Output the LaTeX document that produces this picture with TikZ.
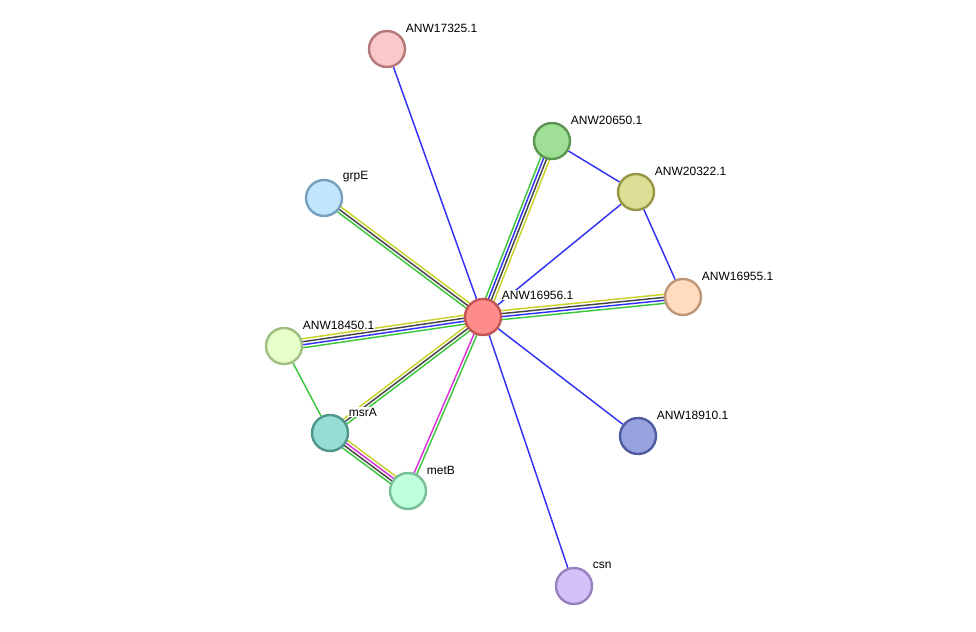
\documentclass[tikz,border=0pt]{standalone}
\usepackage{fontspec}
\setmainfont{Liberation Sans}
\usetikzlibrary{calc,backgrounds}

\definecolor{evgreen}{RGB}{60,200,60}
\definecolor{evblue}{RGB}{50,50,245}
\definecolor{evyellow}{RGB}{200,210,40}
\definecolor{evdark}{RGB}{70,70,70}
\definecolor{evpink}{RGB}{220,50,220}

% node fill / border colours
\definecolor{fA}{RGB}{255,140,140}\definecolor{bA}{RGB}{195,85,85}
\definecolor{fB}{RGB}{250,200,200}\definecolor{bB}{RGB}{180,120,120}
\definecolor{fC}{RGB}{160,224,150}\definecolor{bC}{RGB}{90,150,80}
\definecolor{fD}{RGB}{222,222,150}\definecolor{bD}{RGB}{150,150,70}
\definecolor{fE}{RGB}{192,230,252}\definecolor{bE}{RGB}{120,160,190}
\definecolor{fF}{RGB}{255,220,192}\definecolor{bF}{RGB}{190,150,120}
\definecolor{fG}{RGB}{230,255,200}\definecolor{bG}{RGB}{160,190,130}
\definecolor{fH}{RGB}{150,222,212}\definecolor{bH}{RGB}{80,150,140}
\definecolor{fI}{RGB}{152,162,222}\definecolor{bI}{RGB}{80,90,160}
\definecolor{fJ}{RGB}{192,255,220}\definecolor{bJ}{RGB}{120,190,150}
\definecolor{fK}{RGB}{212,192,250}\definecolor{bK}{RGB}{150,130,190}

\newcommand\edgeset[3]{%
  \foreach \c/\o in {#3}
    \draw[edge, \c] ($(#1)!\o pt!90:(#2)$) -- ($(#2)!\o pt!-90:(#1)$);}

\begin{document}
\begin{tikzpicture}[x=0.75pt, y=-0.75pt,
  prot/.style={circle, draw=b#1, fill=f#1, line width=1.8pt, minimum size=27pt, inner sep=0pt},
  lbl/.style={font=\fontsize{9}{10}\selectfont, fill=white, inner sep=0.5pt, anchor=west},
  edge/.style={line width=1.1pt}]
  \useasboundingbox (0,0) rectangle (976,632);

  % proteins
  \node[prot=A] (anw16956) at (483,317) {};
  \node[prot=B] (anw17325) at (387,49) {};
  \node[prot=C] (anw20650) at (552,141) {};
  \node[prot=D] (anw20322) at (636,192) {};
  \node[prot=E] (grpE) at (324,198) {};
  \node[prot=F] (anw16955) at (683,297) {};
  \node[prot=G] (anw18450) at (284,346) {};
  \node[prot=H] (msrA) at (330,433) {};
  \node[prot=I] (anw18910) at (638,436) {};
  \node[prot=J] (metB) at (408,491) {};
  \node[prot=K] (csn) at (574,586) {};

  % labels
  \node[lbl] (l16956) at (501,295) {ANW16956.1};
  \node[lbl] (l17325) at (405,28) {ANW17325.1};
  \node[lbl] (l20650) at (570,120) {ANW20650.1};
  \node[lbl] (l20322) at (654,171) {ANW20322.1};
  \node[lbl] (lgrpE) at (342,177) {grpE};
  \node[lbl] (l16955) at (701,276) {ANW16955.1};
  \node[lbl] (l18450) at (302,325) {ANW18450.1};
  \node[lbl] (lmsrA) at (348,412) {msrA};
  \node[lbl] (l18910) at (656,415) {ANW18910.1};
  \node[lbl] (lmetB) at (426,470) {metB};
  \node[lbl] (lcsn) at (592,565) {csn};

  \begin{pgfonlayer}{background}
    \edgeset{anw16956}{anw16955}{evyellow/3.375, evdark/1.125, evblue/-1.125, evgreen/-3.375}
    \edgeset{anw18450}{anw16956}{evyellow/3.375, evdark/1.125, evblue/-1.125, evgreen/-3.375}
    \edgeset{anw16956}{anw20650}{evgreen/3.375, evblue/1.125, evdark/-1.125, evyellow/-3.375}
    \edgeset{grpE}{anw16956}{evyellow/2.25, evdark/0, evgreen/-2.25}
    \edgeset{msrA}{anw16956}{evyellow/2.25, evdark/0, evgreen/-2.25}
    \edgeset{msrA}{metB}{evyellow/3.375, evpink/1.125, evdark/-1.125, evgreen/-3.375}
    \edgeset{metB}{anw16956}{evpink/1.125, evgreen/-1.125}
    \draw[edge, evblue] (anw16956) -- (anw17325);
    \draw[edge, evblue] (anw16956) -- (anw20322);
    \draw[edge, evblue] (anw16956) -- (anw18910);
    \draw[edge, evblue] (anw16956) -- (csn);
    \draw[edge, evblue] (anw20650) -- (anw20322);
    \draw[edge, evblue] (anw20322) -- (anw16955);
    \draw[edge, evgreen] (anw18450) -- (msrA);
  \end{pgfonlayer}
\end{tikzpicture}
\end{document}
